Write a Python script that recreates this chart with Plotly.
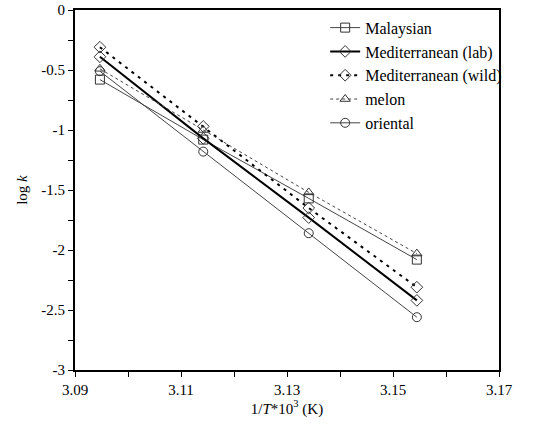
import plotly.graph_objects as go

x_vals = [3.0947, 3.1142, 3.1341, 3.1545]
malaysian = [-0.58, -1.08, -1.57, -2.08]
med_lab = [-0.39, -1.07, -1.73, -2.42]
med_wild = [-0.31, -0.97, -1.65, -2.31]
melon = [-0.49, -1.0, -1.52, -2.03]
oriental = [-0.51, -1.18, -1.86, -2.56]

series = [
    ("Malaysian", malaysian, "square-open", dict(color="#444", width=1, dash="solid")),
    ("Mediterranean (lab)", med_lab, "diamond-open", dict(color="black", width=2, dash="solid")),
    ("Mediterranean (wild)", med_wild, "diamond-open", dict(color="black", width=2, dash="3px,5px")),
    ("melon", melon, "triangle-up-open", dict(color="#444", width=1, dash="dot")),
    ("oriental", oriental, "circle-open", dict(color="#444", width=1, dash="solid")),
]

fig = go.Figure()
for name, ys, sym, line in series:
    fig.add_trace(go.Scatter(
        x=x_vals, y=ys, name=name, mode="lines+markers",
        line=line,
        marker=dict(symbol=sym, size=9, color="#333", line=dict(width=1, color="#333")),
    ))

font = dict(family="Liberation Serif, Times New Roman, serif", size=15, color="black")
lfont = dict(family="Liberation Serif, Times New Roman, serif", size=16, color="black")
fig.update_layout(
    width=533, height=429,
    margin=dict(l=75, r=34, t=10, b=59, autoexpand=False),
    paper_bgcolor="white", plot_bgcolor="white",
    font=font,
    showlegend=True,
    legend=dict(x=0.59, y=0.998, xanchor="left", yanchor="top", bgcolor="rgba(0,0,0,0)",
                font=lfont, tracegroupgap=0, itemwidth=30),
    xaxis=dict(range=[3.09, 3.17], tickvals=[3.09, 3.11, 3.13, 3.15, 3.17],
               ticktext=["3.09", "3.11", "3.13", "3.15", "3.17"],
               tickfont=font, automargin=False,
               ticks="outside", ticklen=5, tickcolor="black", tickwidth=1,
               minor=dict(tickvals=[3.10, 3.12, 3.14, 3.16], ticks="outside", ticklen=5, tickcolor="black"),
               showline=True, linecolor="black", linewidth=2, mirror=True,
               showgrid=False, zeroline=False,
               title=dict(text="1/<i>T</i>*10<sup>3</sup> (K)", font=font, standoff=6)),
    yaxis=dict(range=[-3, 0], tickvals=[0, -0.5, -1, -1.5, -2, -2.5, -3],
               ticktext=["0", "-0.5", "-1", "-1.5", "-2", "-2.5", "-3"],
               tickfont=font, automargin=False,
               ticks="outside", ticklen=5, tickcolor="black", tickwidth=1,
               minor=dict(tickvals=[-0.25, -0.75, -1.25, -1.75, -2.25, -2.75], ticks="outside", ticklen=5, tickcolor="black"),
               showline=True, linecolor="black", linewidth=2, mirror=True,
               showgrid=False, zeroline=False,
               title=dict(text="log <i>k</i>", font=font, standoff=10)),
)
fig.write_html("out.html")
